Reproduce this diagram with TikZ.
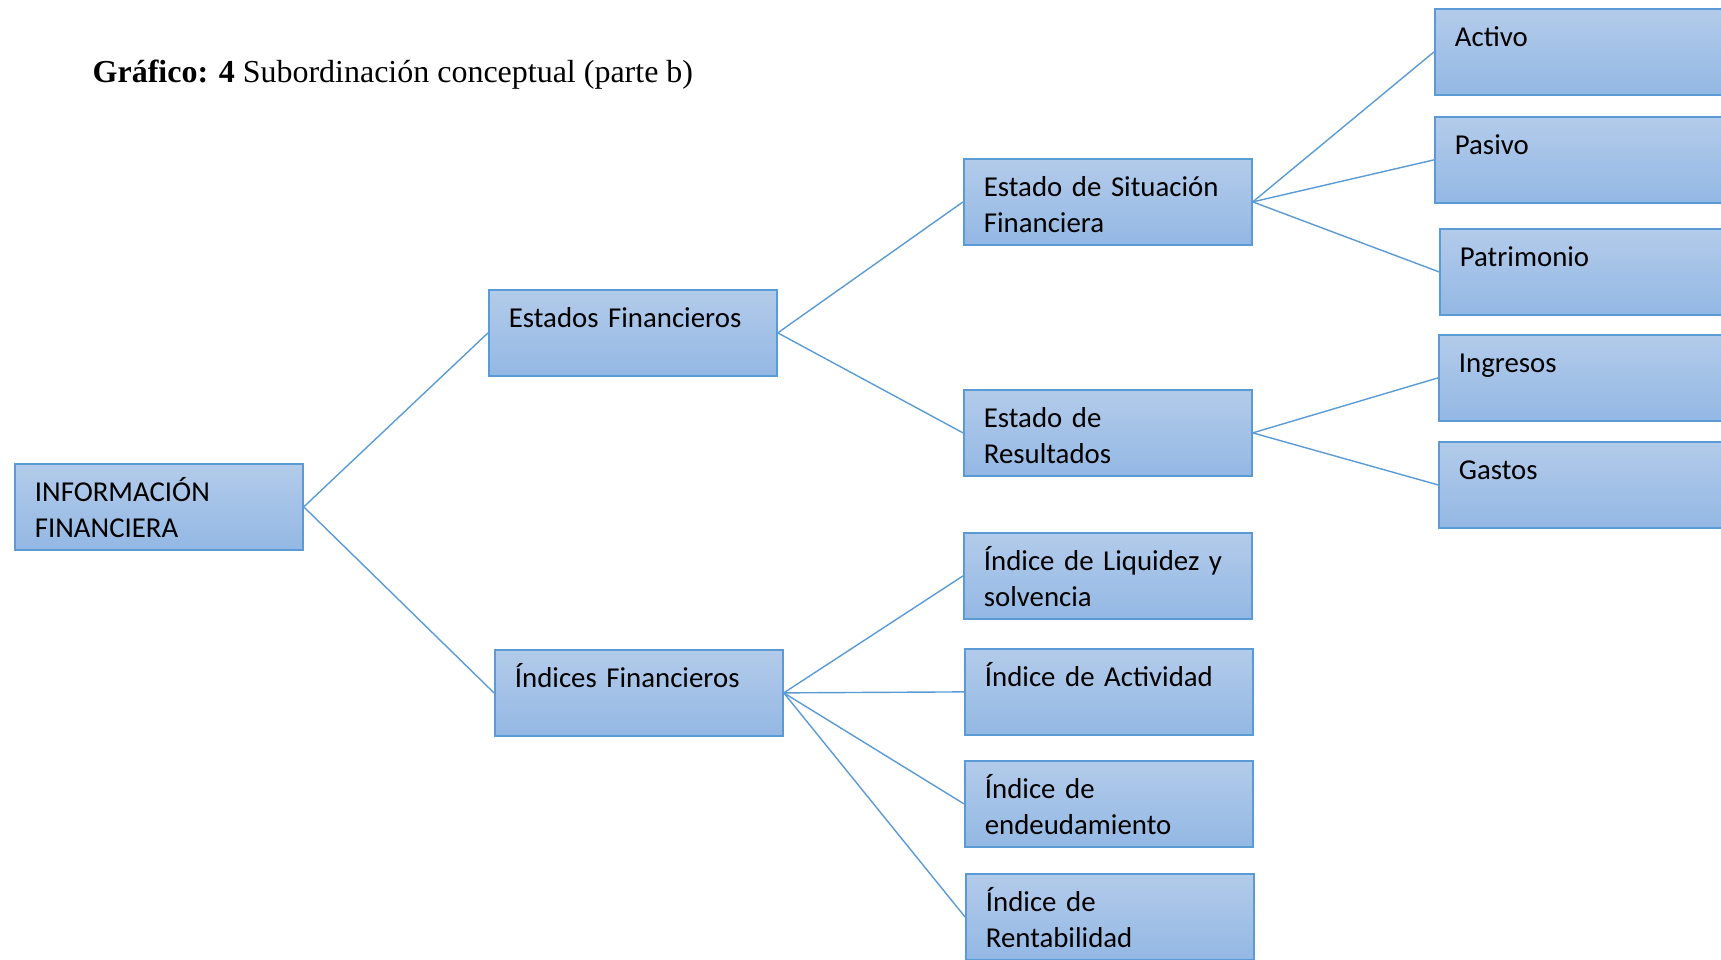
\documentclass[tikz,border=0pt]{standalone}
\usepackage{fontspec}
\setmainfont{Carlito}
\newfontfamily\titlefont{Liberation Serif}
\usepackage{tikz}
\usetikzlibrary{positioning}
\definecolor{boxtop}{HTML}{B3CBEA}
\definecolor{boxbot}{HTML}{93B8E4}
\definecolor{boxline}{HTML}{5B9BD5}
\tikzset{
  box/.style   = {draw=boxline, line width=0.5pt, top color=boxtop,
                  bottom color=boxbot, anchor=north west,
                  text width=24.8mm, align=left, inner xsep=2.0mm, inner ysep=0pt,
                  text height=3.8mm, text depth=4.8mm,
                  font=\fontsize{8.2}{10.2}\selectfont},
  link/.style  = {draw=boxline, line width=0.4pt},
}
\begin{document}
\begin{tikzpicture}[x=0.1mm, y=-0.1mm]
  \clip (0,0) rectangle (1721,960);

  % Title
  \node[anchor=base west, inner sep=0pt, font=\titlefont\fontsize{9.1}{11}\selectfont]
    (title) at (92,82) {\textbf{Gráfico: 4} Subordinación conceptual (parte b)};

  % Level 1 and 2
  \node[box] (info)    at (14,463)  {INFORMACIÓN\\FINANCIERA};
  \node[box] (estados) at (488,289) {Estados Financieros};
  \node[box] (indices) at (494,649) {Índices Financieros};

  % Level 3
  \node[box] (esf)  at (963,158) {Estado de Situación\\Financiera};
  \node[box] (er)   at (963,389) {Estado de\\Resultados};
  \node[box] (liq)  at (963,532) {Índice de Liquidez y\\solvencia};
  \node[box] (act)  at (964,648) {Índice de Actividad};
  \node[box] (endd) at (964,760) {Índice de\\endeudamiento};
  \node[box] (rent) at (965,873) {Índice de\\Rentabilidad};

  % Level 4
  \node[box] (activo) at (1434,8)   {Activo};
  \node[box] (pasivo) at (1434,116) {Pasivo};
  \node[box] (patri)  at (1439,228) {Patrimonio};
  \node[box] (ingr)   at (1438,334) {Ingresos};
  \node[box] (gastos) at (1438,441) {Gastos};

  % Edges
  \foreach \a/\b in {info/estados, info/indices, estados/esf, estados/er,
                     esf/activo, esf/pasivo, esf/patri, er/ingr, er/gastos,
                     indices/liq, indices/act, indices/endd, indices/rent}
    \draw[link] (\a.east) -- (\b.west);
\end{tikzpicture}
\end{document}
